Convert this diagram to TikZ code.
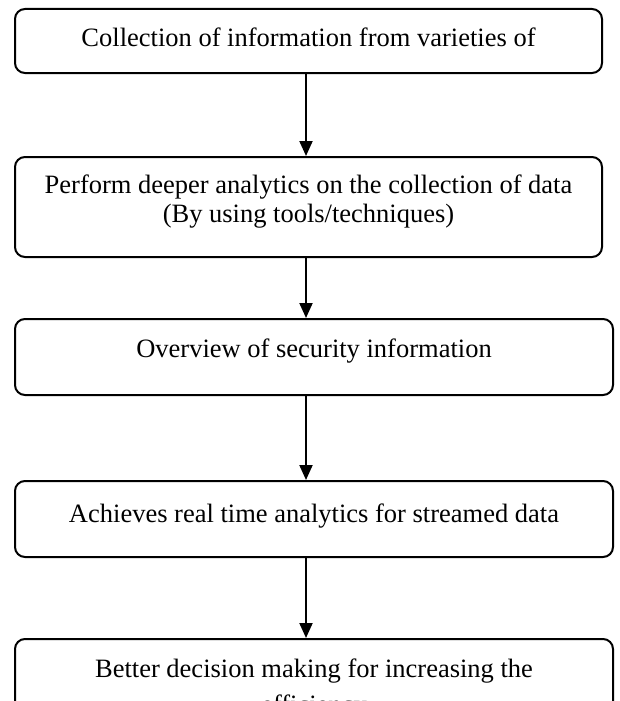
\documentclass[tikz,border=0pt]{standalone}
\usepackage{fontspec}
\setmainfont{Liberation Serif}
\usetikzlibrary{arrows.meta}
\tikzset{
  flowbox/.style={draw=black, line width=2pt, rounded corners=10pt, inner sep=0pt},
  label/.style={anchor=base, font=\fontsize{26.5}{30}\selectfont, inner sep=0pt},
  flowarrow/.style={line width=2pt, -{Triangle[length=15pt,width=13pt]}}
}
\begin{document}
\begin{tikzpicture}[x=1pt, y=-1pt]
  \useasboundingbox (0,0) rectangle (619,701);
  \clip (0,0) rectangle (619,701);

  % process boxes
  \node[flowbox, minimum width=587pt, minimum height=64pt]  (b1) at (308.5,41) {};
  \node[flowbox, minimum width=587pt, minimum height=100pt] (b2) at (308.5,207) {};
  \node[flowbox, minimum width=598pt, minimum height=76pt]  (b3) at (314,357) {};
  \node[flowbox, minimum width=598pt, minimum height=76pt]  (b4) at (314,519) {};
  \node[flowbox, minimum width=598pt, minimum height=100pt] (b5) at (314,689) {};

  % box texts
  \node[label] (t1)  at (308.5,47) {Collection of information from varieties of};
  \node[label] (t2a) at (308.5,193) {Perform deeper analytics on the collection of data};
  \node[label] (t2b) at (308.5,222) {(By using tools/techniques)};
  \node[label] (t3)  at (314,357) {Overview of security information};
  \node[label] (t4)  at (314,522) {Achieves real time analytics for streamed data};
  \node[label] (t5a) at (314,677) {Better decision making for increasing the};
  \node[label] (t5b) at (314,713) {efficiency};

  % connectors
  \coordinate (ax) at (306,0);
  \draw[flowarrow] (b1.south -| ax) -- (b2.north -| ax);
  \draw[flowarrow] (b2.south -| ax) -- (b3.north -| ax);
  \draw[flowarrow] (b3.south -| ax) -- (b4.north -| ax);
  \draw[flowarrow] (b4.south -| ax) -- (b5.north -| ax);
\end{tikzpicture}
\end{document}
